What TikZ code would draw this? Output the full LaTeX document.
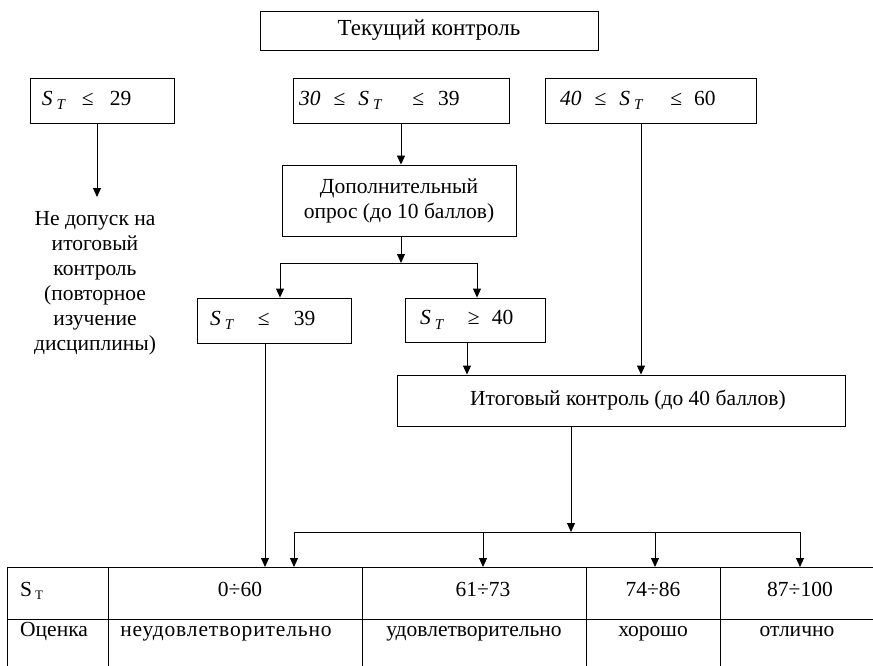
\documentclass[tikz,border=0pt]{standalone}
\usepackage{fontspec}
\setmainfont{Liberation Serif}
\usetikzlibrary{arrows.meta}
\newcommand\STi{\textit{S}\kern4pt\raisebox{-0.45ex}{\fontsize{15}{15}\selectfont\textit{T}}}
\newcommand\STu{S\kern3pt\raisebox{-0.4ex}{\fontsize{13}{13}\selectfont T}}
\newcommand\lbox[2]{\makebox[#1pt][l]{#2}}
\begin{document}
\begin{tikzpicture}[x=1pt,y=-1pt,
  font=\fontsize{21.5}{25}\selectfont,
  box/.style={draw, line width=0.9pt, inner sep=0pt},
  ln/.style={line width=0.9pt},
  arr/.style={line width=0.9pt, -{Triangle[length=9pt,width=8pt]}},
  cell/.style={inner sep=0pt, anchor=base}]
\useasboundingbox (0,0) rectangle (873,666);
% boxes
\node[box, minimum width=338pt, minimum height=39pt, font=\fontsize{23}{25}\selectfont] (top) at (429,30.5) {Текущий контроль};
\node[box, minimum width=144pt, minimum height=45pt] (b29) at (102,100.5)
  {\lbox{144}{\hspace{12pt}\STi\hspace{16pt}≤\hspace{16pt}29}};
\node[box, minimum width=216pt, minimum height=45pt] (b39) at (401,100.5)
  {\lbox{216}{\hspace{6pt}\textit{30}\hspace{13pt}≤\hspace{13pt}\STi\hspace{30pt}≤\hspace{14pt}39}};
\node[box, minimum width=211pt, minimum height=45pt] (b60) at (650.5,100.5)
  {\lbox{211}{\hspace{15pt}\textit{40}\hspace{13pt}≤\hspace{13pt}\STi\hspace{27pt}≤\hspace{12pt}60}};
\node[box, minimum width=234pt, minimum height=71pt, align=center] (dop) at (399,200.5) {Дополнительный\\опрос (до 10 баллов)};
\node[inner sep=0pt, align=center] (nd) at (95,283) {Не допуск на\\итоговый\\контроль\\(повторное\\изучение\\дисциплины)};
\node[box, minimum width=154pt, minimum height=45pt] (le39) at (274,320.5)
  {\lbox{154}{\hspace{13pt}\STi\hspace{24pt}≤\hspace{24pt}39}};
\node[box, minimum width=140pt, minimum height=44pt] (ge40) at (475,320)
  {\lbox{140}{\hspace{15pt}\STi\hspace{24pt}≥\hspace{12pt}40}};
\node[box, minimum width=448pt, minimum height=51pt] (itog) at (621,400.5) {\hspace{14pt}Итоговый контроль (до 40 баллов)};
% coordinates
\coordinate (ndtop) at (97,197);
\coordinate (s1) at (401,263);
\coordinate (sL) at (280,263);
\coordinate (sR) at (477,263);
\coordinate (s2) at (571,532);
\coordinate (dL) at (294,532);
\coordinate (d2) at (483,532);
\coordinate (d3) at (655,532);
\coordinate (d4) at (800,532);
\coordinate (tTop) at (0,567);
% connectors
\draw[arr] (b29.south -| ndtop) -- (ndtop);
\draw[arr] (b39.south -| s1) -- (dop.north -| s1);
\draw[arr] (dop.south -| s1) -- (s1);
\draw[ln] (sL) -- (sR);
\draw[arr] (sL) -- (sL |- le39.north);
\draw[arr] (sR) -- (sR |- ge40.north);
\draw[arr] ([xshift=-9pt]le39.south) -- ([xshift=-9pt]le39.south |- tTop);
\draw[arr] ([xshift=-8pt]ge40.south) -- ([xshift=-8pt]ge40.south |- itog.north);
\draw[arr] ([xshift=-9.5pt]b60.south) -- ([xshift=-9.5pt]b60.south |- itog.north);
\draw[arr] (itog.south -| s2) -- (s2);
\draw[ln] (dL) -- (d4);
\draw[arr] (dL) -- (dL |- tTop);
\draw[arr] (d2) -- (d2 |- tTop);
\draw[arr] (d3) -- (d3 |- tTop);
\draw[arr] (d4) -- (d4 |- tTop);
% table
\draw[ln] (7,567) -- (873,567);
\draw[ln] (7,619) -- (873,619);
\foreach \x in {7,108,362,586,720} \draw[ln] (\x,567) -- (\x,666);
\node[cell, anchor=base west] (c11) at (20,596) {\STu};
\node[cell, anchor=base west] (c21) at (20,636) {Оценка};
\node[cell] (c12) at (240,596) {0÷60};
\node[cell] (c22) at (226,636) {\addfontfeature{LetterSpace=4}неудовлетворительно};
\node[cell] (c13) at (483,596) {61÷73};
\node[cell] (c23) at (474,636) {удовлетворительно};
\node[cell] (c14) at (653,596) {74÷86};
\node[cell] (c24) at (653,636) {хорошо};
\node[cell] (c15) at (800,596) {87÷100};
\node[cell] (c25) at (797,636) {отлично};
\end{tikzpicture}
\end{document}
